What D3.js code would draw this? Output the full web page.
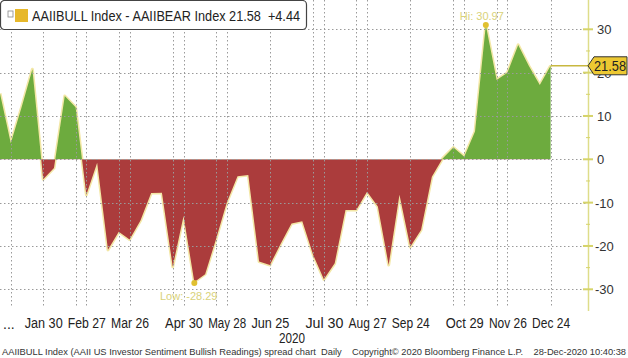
<!DOCTYPE html>
<html>
<head>
<meta charset="utf-8">
<script src="https://cdn.jsdelivr.net/npm/d3@7"></script>
<style>
  html, body { margin: 0; padding: 0; background: #fff; }
  svg { display: block; font-family: "Liberation Sans", Arial, sans-serif; }
</style>
</head>
<body>
<svg id="chart" width="628" height="358"></svg>
<script>
// weekly readings, 2020 (bull - bear spread)
const weeks = [
  '2020-01-02', '2020-01-09', '2020-01-16', '2020-01-23', '2020-01-30',
  '2020-02-06', '2020-02-13', '2020-02-20', '2020-02-27',
  '2020-03-05', '2020-03-12', '2020-03-19', '2020-03-26',
  '2020-04-02', '2020-04-09', '2020-04-16', '2020-04-23', '2020-04-30',
  '2020-05-07', '2020-05-14', '2020-05-21', '2020-05-28',
  '2020-06-04', '2020-06-11', '2020-06-18', '2020-06-25',
  '2020-07-02', '2020-07-09', '2020-07-16', '2020-07-23', '2020-07-30',
  '2020-08-06', '2020-08-13', '2020-08-20', '2020-08-27',
  '2020-09-03', '2020-09-10', '2020-09-17', '2020-09-24',
  '2020-10-01', '2020-10-08', '2020-10-15', '2020-10-22', '2020-10-29',
  '2020-11-05', '2020-11-12', '2020-11-19', '2020-11-26',
  '2020-12-03', '2020-12-10', '2020-12-17', '2020-12-24'
];
const spread = [
  15.2, 3.7, 12.0, 20.8, -4.6,
  -2.0, 14.6, 12.0, -8.2,
  -0.8, -20.9, -16.7, -18.5,
  -14.2, -7.8, -7.7, -24.8, -13.1,
  -28.29, -26.5, -18.5, -10.0,
  -3.9, -3.6, -23.6, -24.4,
  -19.5, -14.8, -14.3, -22.0, -27.7,
  -24.0, -11.7, -11.7, -7.5,
  -10.9, -24.4, -8.2, -20.2,
  -16.3, -4.0, 0.2, 2.7, 0.6,
  6.4, 30.97, 18.3, 20.0,
  26.4, 21.5, 17.14, 21.58
];
const tickDates = ['2020-01-30', '2020-02-27', '2020-03-26', '2020-04-30', '2020-05-28', '2020-06-25',
  '2020-07-30', '2020-08-27', '2020-09-24', '2020-10-29', '2020-11-26', '2020-12-24'];
const gridDates = ['2020-01-09', '2020-01-30', '2020-02-20', '2020-02-27', '2020-03-19', '2020-03-26',
  '2020-04-23', '2020-04-30', '2020-05-21', '2020-05-28', '2020-06-25', '2020-07-23', '2020-07-30',
  '2020-08-20', '2020-08-27', '2020-09-24', '2020-10-22', '2020-10-29', '2020-11-19', '2020-11-26',
  '2020-12-24'];
const yTicks = [-30, -20, -10, 0, 10, 20, 30];

const parse = d3.timeParse('%Y-%m-%d');
const data = weeks.map((w, i) => ({ date: parse(w), value: spread[i] }));

const svg = d3.select('#chart');
const axisX = 588;

const x = d3.scaleTime()
  .domain([parse('2020-01-02'), parse('2020-12-24')])
  .range([0, 550.6]);
const y = d3.scaleLinear().domain([-30, 30]).range([289.3, 29.3]);

const defs = svg.append('defs');
defs.append('clipPath').attr('id', 'above')
  .append('rect').attr('x', 0).attr('y', 0).attr('width', axisX).attr('height', y(0));
defs.append('clipPath').attr('id', 'below')
  .append('rect').attr('x', 0).attr('y', y(0)).attr('width', axisX).attr('height', 358 - y(0));

const area = d3.area().x(d => x(d.date)).y0(y(0)).y1(d => y(d.value));
const line = d3.line().x(d => x(d.date)).y(d => y(d.value));

// soft yellow edge under the fills
svg.append('path').datum(data)
  .attr('d', line).attr('fill', 'none')
  .attr('stroke', '#f3e7a6').attr('stroke-width', 3).attr('stroke-linejoin', 'round');

svg.append('path').datum(data)
  .attr('d', area).attr('fill', '#6dab3e').attr('clip-path', 'url(#above)');
svg.append('path').datum(data)
  .attr('d', area).attr('fill', '#ab3c3c').attr('clip-path', 'url(#below)');

// dotted grid on top of fills
const grid = svg.append('g').attr('stroke', '#9a9a9a').attr('stroke-dasharray', '1.5,2.5').attr('stroke-width', 1);
grid.selectAll('.hg').data(yTicks).enter().append('line')
  .attr('x1', 0).attr('x2', axisX)
  .attr('y1', d => Math.round(y(d)) + 0.5).attr('y2', d => Math.round(y(d)) + 0.5);
grid.selectAll('.vg').data(gridDates).enter().append('line')
  .attr('x1', d => Math.round(x(parse(d))) + 0.5).attr('x2', d => Math.round(x(parse(d))) + 0.5)
  .attr('y1', 0).attr('y2', 306);

// right axis
const yAxis = svg.append('g');
yAxis.append('line')
  .attr('x1', axisX + 0.5).attr('x2', axisX + 0.5).attr('y1', 0).attr('y2', 311)
  .attr('stroke', '#dedd8a').attr('stroke-width', 1.5);
yAxis.selectAll('.minor').data(d3.range(-30, 31, 5)).enter().append('line')
  .attr('x1', d => d % 10 === 0 ? axisX - 5 : axisX - 2)
  .attr('x2', d => d % 10 === 0 ? axisX + 5 : axisX + 2)
  .attr('y1', d => y(d)).attr('y2', d => y(d))
  .attr('stroke', '#d6d46a').attr('stroke-width', d => d % 10 === 0 ? 2 : 1);
yAxis.selectAll('text').data(yTicks).enter().append('text')
  .attr('x', d => d < 0 ? 595 : 597)
  .attr('y', d => y(d) + 5)
  .attr('font-size', 13).attr('fill', '#333')
  .text(d => d < 0 ? '-' + Math.abs(d) : d);

// bottom date labels
const xAxis = svg.append('g')
  .attr('transform', 'translate(0,315)')
  .call(d3.axisBottom(x).tickValues(tickDates.map(parse)).tickFormat(d3.timeFormat('%b %-d')).tickSize(0));
xAxis.select('.domain').remove();
xAxis.selectAll('text')
  .attr('font-family', '"Liberation Sans", Arial, sans-serif')
  .attr('font-size', 14).attr('fill', '#222').attr('dy', '0.71em')
  .attr('textLength', 38).attr('lengthAdjust', 'spacingAndGlyphs');
svg.append('text').attr('x', 3).attr('y', 329).attr('font-size', 14).attr('fill', '#222').text('...');
svg.append('text').attr('x', 292).attr('y', 343).attr('text-anchor', 'middle')
  .attr('font-size', 14).attr('fill', '#222')
  .attr('textLength', 26).attr('lengthAdjust', 'spacingAndGlyphs').text('2020');

// hi / low markers
const last = data[data.length - 1];
const hi = data.reduce((a, b) => (b.value > a.value ? b : a));
const lo = data.reduce((a, b) => (b.value < a.value ? b : a));
svg.append('circle').attr('cx', x(hi.date)).attr('cy', y(hi.value)).attr('r', 3).attr('fill', '#e0c030');
svg.append('text').attr('x', x(hi.date) - 26).attr('y', 20)
  .attr('font-size', 11).attr('fill', '#d9d27a').text('Hi: ' + hi.value.toFixed(2));
svg.append('circle').attr('cx', x(lo.date)).attr('cy', y(lo.value) + 1).attr('r', 3).attr('fill', '#e0c030');
svg.append('text').attr('x', 160).attr('y', 300)
  .attr('font-size', 11).attr('fill', '#d9d27a').text('Low: ' + lo.value.toFixed(2));

// last value tag
svg.append('line')
  .attr('x1', x(last.date)).attr('x2', axisX).attr('y1', y(last.value)).attr('y2', y(last.value))
  .attr('stroke', '#c8b840').attr('stroke-width', 1.5);
const ty = y(last.value);
svg.append('path')
  .attr('d', `M${axisX},${ty} L${axisX + 6},${ty - 9} L627,${ty - 9} L627,${ty + 9} L${axisX + 6},${ty + 9} Z`)
  .attr('fill', '#ecc832').attr('stroke', '#333').attr('stroke-width', 1);
svg.append('text').attr('x', 594).attr('y', ty + 5)
  .attr('font-size', 14).attr('fill', '#222')
  .attr('textLength', 32).attr('lengthAdjust', 'spacingAndGlyphs').text(last.value.toFixed(2));

// legend box
const legend = svg.append('g');
legend.append('rect').attr('x', 0.5).attr('y', 0.5).attr('width', 306).attr('height', 29).attr('rx', 4)
  .attr('fill', '#fff').attr('stroke', '#444').attr('stroke-width', 1.2);
legend.append('rect').attr('x', 8).attr('y', 11).attr('width', 5).attr('height', 6)
  .attr('fill', 'none').attr('stroke', '#888').attr('stroke-width', 0.8);
legend.append('rect').attr('x', 15).attr('y', 9).attr('width', 13).attr('height', 13).attr('fill', '#e7b82a');
const change = last.value - data[data.length - 2].value;
legend.append('text').attr('x', 32).attr('y', 21).attr('font-size', 14).attr('fill', '#222')
  .attr('xml:space', 'preserve')
  .attr('textLength', 268).attr('lengthAdjust', 'spacingAndGlyphs')
  .text('AAIIBULL Index - AAIIBEAR Index ' + last.value.toFixed(2) + '  +' + change.toFixed(2));

// footer
svg.append('text').attr('x', 2).attr('y', 355).attr('font-size', 9).attr('fill', '#333')
  .attr('textLength', 624).attr('lengthAdjust', 'spacingAndGlyphs')
  .attr('xml:space', 'preserve')
  .text('AAIIBULL Index (AAII US Investor Sentiment Bullish Readings) spread chart  Daily    Copyright\u00a9 2020 Bloomberg Finance L.P.    28-Dec-2020 10:40:38');
</script>
</body>
</html>
